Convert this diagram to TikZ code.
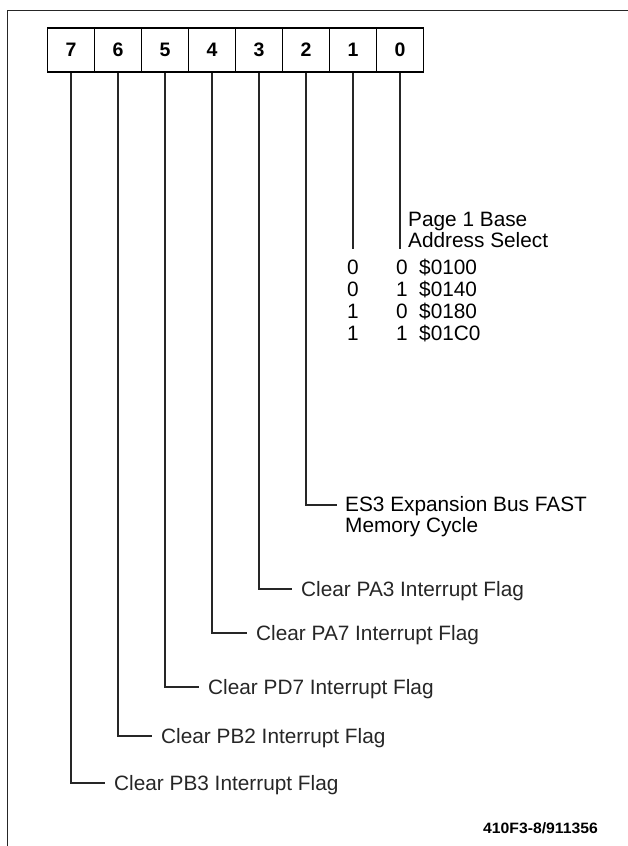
\documentclass[tikz,border=0pt]{standalone}
\usepackage{fontspec}
\setmainfont{Liberation Sans}
\newfontfamily\labfont{Liberation Sans}
\newfontfamily\idfont[FakeStretch=1.05]{Liberation Sans}
\begin{document}
\begin{tikzpicture}[x=1pt,y=-1pt,
  frameline/.style={line width=1.4pt, draw=black!85},
  bitbox/.style={draw, line width=1.8pt, minimum width=47pt, minimum height=44pt,
    inner sep=0pt, font=\fontsize{19.5}{22}\selectfont\bfseries},
  conn/.style={line width=1.4pt, draw=black!85},
  lab/.style={font=\labfont\fontsize{20.8}{22}\selectfont, inner sep=0pt, inner xsep=9pt,
    text height=15pt, text depth=0pt, anchor=west, text=black!85},
  txt/.style={font=\labfont\fontsize{20.8}{18.8}\selectfont, inner sep=0pt, text=black},
  idtxt/.style={font=\idfont\fontsize{15}{17}\selectfont\bfseries, inner sep=0pt}
]
\useasboundingbox (0,0) rectangle (628,846);
% frame
\draw[frameline] (628,10.5) -- (7.5,10.5) -- (7.5,846);
% bit boxes
\foreach \b [count=\k from 0] in {7,6,5,4,3,2,1,0}
  \node[bitbox] (b\b) at ({47.5+47*(\k+0.5)},50) {\b};
% single-line labels
\node[lab] (l7) at (105,783) {Clear PB3 Interrupt Flag};
\node[lab] (l6) at (152,736) {Clear PB2 Interrupt Flag};
\node[lab] (l5) at (199,687) {Clear PD7 Interrupt Flag};
\node[lab] (l4) at (247,633) {Clear PA7 Interrupt Flag};
\node[lab] (l3) at (292,589) {Clear PA3 Interrupt Flag};
\foreach \b in {7,6,5,4,3}
  \draw[conn] (b\b.south) |- (l\b.west);
% bit 2 label
\coordinate (e2) at (337,505);
\node[txt, anchor=base west, align=left] (l2) at (345,532)
  {ES3 Expansion Bus FAST\\Memory Cycle};
\draw[conn] (b2.south) |- (e2);
% bits 1 and 0
\coordinate (e1) at (b1.south |- 0,249);
\coordinate (e0) at (b0.south |- 0,249);
\draw[conn] (b1.south) -- (e1);
\draw[conn] (b0.south) -- (e0);
\node[txt, anchor=base west, align=left] (pg) at (408,247)
  {Page 1 Base\\Address Select};
\foreach \p/\q/\addr [count=\i from 0] in {0/0/\$0100,0/1/\$0140,1/0/\$0180,1/1/\$01C0}{
  \node[txt, anchor=base] (ra\i) at (353,{274+22*\i}) {\p};
  \node[txt, anchor=base] (rb\i) at (402,{274+22*\i}) {\q};
  \node[txt, anchor=base west] (rc\i) at (419,{274+22*\i}) {\addr};
}
% figure id
\node[idtxt, anchor=base west] (fid) at (483,833) {410F3-8/911356};
\end{tikzpicture}
\end{document}
